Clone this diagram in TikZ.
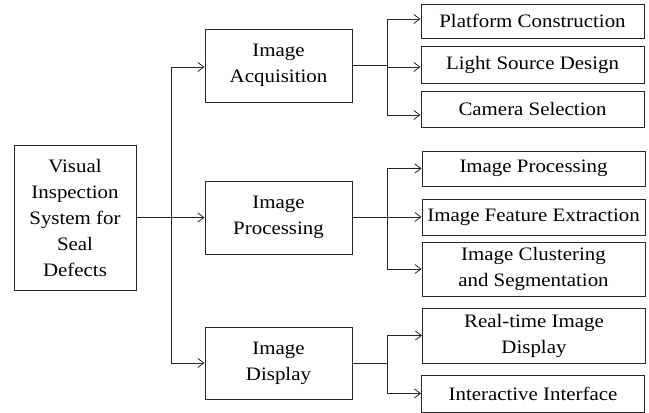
\documentclass[tikz,border=0pt]{standalone}
\usepackage{fontspec}
\setmainfont{Liberation Serif}[FakeStretch=1.1]
\usetikzlibrary{arrows.meta}
\begin{document}
\begin{tikzpicture}[x=1pt,y=-1pt,
  box/.style={draw=black!85, line width=0.9pt, align=center, inner sep=0pt,
    font=\fontsize{19}{26}\selectfont},
  midbox/.style={box, minimum width=147pt},
  leafbox/.style={box, minimum width=223pt},
  link/.style={draw=black!85, line width=0.9pt},
  arr/.style={link, -{Straight Barb[length=6pt,width=9pt,line width=0.8pt]}}
]
\useasboundingbox (0,0) rectangle (649,413);

% root
\node[box, minimum width=122pt, minimum height=145pt] (root) at (75,217.5)
  {Visual\\Inspection\\System for\\Seal\\Defects};

% second level
\node[midbox, minimum height=73pt] (acq)  at (278.5,65.5) {Image\\Acquisition};
\node[midbox, minimum height=73pt] (proc) at (278.5,217.5) {Image\\Processing};
\node[midbox, minimum height=72pt] (disp) at (278.5,363) {Image\\Display};

% leaves
\node[leafbox, minimum height=34pt] (plat)  at (532.5,21)   {Platform Construction};
\node[leafbox, minimum height=37pt] (light) at (532.5,64.5) {Light Source Design};
\node[leafbox, minimum height=36pt] (cam)   at (532.5,109)  {Camera Selection};
\node[leafbox, minimum height=35pt] (ip)    at (533.5,168.5) {Image Processing};
\node[leafbox, minimum height=36pt] (feat)  at (533.5,217)  {Image Feature Extraction};
\node[leafbox, minimum height=54pt] (clus)  at (533.5,269)  {Image Clustering\\and Segmentation};
\node[leafbox, minimum height=55pt] (rt)    at (534,335.5)  {Real-time Image\\Display};
\node[leafbox, minimum height=37pt] (inter) at (533,393.5)  {Interactive Interface};

% bus points
\coordinate (bus)  at (171.5,217.5);
\coordinate (abus) at (387,65.5);
\coordinate (pbus) at (387,217.5);
\coordinate (dbus) at (387,363);

% root to second level
\draw[link] (root.east) -- (bus);
\draw[arr] (bus) |- ([yshift=-1.5pt]acq.west);
\draw[arr] (bus) -- (proc.west);
\draw[arr] (bus) |- (disp.west);

% acquisition branch
\draw[link] (acq.east) -- (abus);
\draw[arr] (abus) |- ([yshift=2pt]plat.west);
\draw[arr] (abus) |- ([yshift=-2.5pt]light.west);
\draw[arr] (abus) |- ([yshift=-6pt]cam.west);

% processing branch
\draw[link] (proc.east) -- (pbus);
\draw[arr] (pbus) |- (ip.west);
\draw[arr] (pbus) |- (feat.west);
\draw[arr] (pbus) |- (clus.west);

% display branch
\draw[link] (disp.east) -- (dbus);
\draw[arr] (dbus) |- (rt.west);
\draw[arr] (dbus) |- (inter.west);
\end{tikzpicture}
\end{document}
